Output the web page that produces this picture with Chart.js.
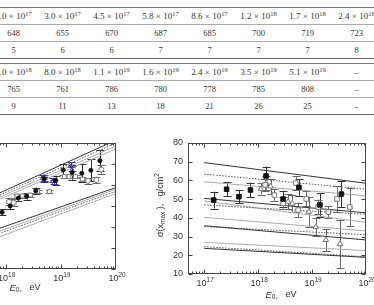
<!DOCTYPE html>
<html lang="en">
<head>
<meta charset="UTF-8">
<title>Xmax and sigma(Xmax) versus E0</title>
<script src="https://cdn.jsdelivr.net/npm/chart.js"></script>
<style>
  body { margin:0; width:374px; height:305px; overflow:hidden; background:#fff; position:relative; }
  .tab { position:absolute; left:-11px; width:441px; table-layout:fixed; border-collapse:separate; border-spacing:0; border-top:1px solid #777; }
  .tab td { width:49px; height:16px; padding:0; border-bottom:1px solid #aaa; text-align:center;
            font:8.5px "Liberation Serif", serif; line-height:16px; color:#333; white-space:nowrap; }
  .tab tr:last-child td { border-bottom-color:#666; }
  .tab tr.h td { font-size:9px; }
  .tab sup { font-size:6.5px; vertical-align:3px; line-height:0; }
  canvas { position:absolute; top:130px; }
</style>
</head>
<body>
<table class="tab" id="t1" style="top:7px"></table>
<table class="tab" id="t2" style="top:63px"></table>
<canvas id="left" width="220" height="175" style="left:-80px"></canvas>
<canvas id="right" width="224" height="175" style="left:150px"></canvas>

<script>
// table / left chart data (Xmax, g/cm2)
const E0 = [2.0e17, 3.0e17, 4.5e17, 5.8e17, 8.6e17, 1.2e18, 1.7e18, 2.4e18, 3.5e18,
            5.0e18, 8.0e18, 1.1e19, 1.6e19, 2.4e19, 3.5e19, 5.1e19];
const xmax = [648, 655, 670, 687, 685, 700, 719, 723, 736, 765, 761, 786, 780, 778, 785, 808];
const xmaxErr = [5, 6, 6, 7, 7, 7, 7, 8, 8, 9, 11, 13, 18, 21, 26, 25];
const perRow = 9;

// other left chart sets
const lsqE = [1.6e18, 2.0e18, 2.8e18, 3.8e18, 6.2e18, 1.15e19, 1.4e19, 1.85e19, 2.45e19];
const lsqX = [724, 724, 726, 734, 734, 770, 770, 770, 764];
const lsqErr = [4, 4, 4, 4, 4, 4, 4, 4, 4];
const lcirE = [1.15e18, 1.4e18, 3.1e19, 4.4e19, 5.4e19];
const lcirX = [710, 708, 760, 762, 787];
const lcirErr = [8, 8, 7, 8, 10];
const lbluE = [4.7e18, 4.9e18, 7.1e18, 7.6e18, 1.5e19, 1.6e19];
const lbluX = [770, 764, 762, 758, 798, 790];
const lbluErr = [5, 5, 5, 5, 6, 6];
const lineE = [1e17, 1e20];
const leftDark = [[678, 857], [606, 744]];
const leftDot = [[674, 850], [593, 735]];
const leftGray = [[670, 843], [666, 836], [598, 740], [583, 730]];
const leftYTicks = [550, 600, 650, 700, 750, 800, 850];

// right chart: sigma(Xmax), g/cm2
const sqE = [1.5e17, 2.6e17, 4.4e17, 7.2e17, 1.4e18, 2.9e18, 5.7e18, 1.4e19, 3.5e19];
const sqSig = [49.5, 55.3, 51.3, 54.9, 62.4, 50.1, 56.3, 46.9, 52.7];
const sqErr = [4.5, 3.7, 3.4, 3.9, 5.0, 4.4, 4.5, 6.4, 6.9];
const osqE = [1.35e18, 2.0e18, 2.9e18, 5.0e18, 5.5e18, 7.8e18, 1.3e19, 2.0e19, 2.9e19, 5.0e19];
const osqSig = [57.6, 52.2, 47.9, 58.6, 44.2, 50.1, 45.8, 43.1, 50.1, 45.8];
const osqErr = [3, 3, 3, 3.5, 4, 4, 4, 3, 7, 10];
const triE = [1.12e18, 1.41e18, 1.7e18, 3.6e18, 4.3e18, 8.7e18, 1.17e19, 1.8e19, 3.3e19];
const triSig = [55.4, 58.6, 56.8, 48.6, 47.7, 43.3, 35.1, 28.2, 26.0];
const triErr = [3, 3.5, 4, 4, 4.5, 8, 5, 6, 13];
const rightDark = [[69.5, 58.5], [50.4, 42.7], [35.8, 28.2], [23.7, 18.9]];
const rightDot = [[63.4, 55.3], [46.9, 41.9], [35.3, 31.0], [24.6, 19.2]];
const rightGray = [[59.3, 51.8], [49.0, 37.6], [40.3, 33.0], [26.9, 22.5]];
const rightYTicks = [10, 20, 30, 40, 50, 60, 70, 80];
const decades = [1e17, 1e18, 1e19, 1e20];

// ---- table ----
function fmtE(e) {
  const p = Math.floor(Math.log10(e) + 1e-9);
  return (e / 10 ** p).toFixed(1) + ' × 10<sup>' + p + '</sup>';
}
function fillTable(id, from) {
  const idx = [];
  for (let i = from; i < from + perRow; i++) idx.push(i);
  const cell = (i, f) => i < E0.length ? f(i) : '–';
  document.getElementById(id).innerHTML =
    '<tr class="h">' + idx.map(i => '<td>' + cell(i, j => fmtE(E0[j])) + '</td>').join('') + '</tr>' +
    '<tr>' + idx.map(i => '<td>' + cell(i, j => xmax[j]) + '</td>').join('') + '</tr>' +
    '<tr>' + idx.map(i => '<td>' + cell(i, j => xmaxErr[j]) + '</td>').join('') + '</tr>';
}
fillTable('t1', 0);
fillTable('t2', perRow);

// ---- chart helpers ----
const pts = (xs, ys) => xs.map((x, i) => ({ x, y: ys[i] }));
function lineSets(list, color, dash) {
  return list.map(v => ({ data: pts(lineE, v), showLine: true, pointRadius: 0,
    borderColor: color, borderWidth: 1, borderDash: dash || [] }));
}
function pointSet(xs, ys, errs, style, r, fill, stroke, errColor) {
  return { data: pts(xs, ys), errors: errs, errColor, pointStyle: style, pointRadius: r,
    backgroundColor: fill, borderColor: stroke, borderWidth: 1, showLine: false };
}

const errorBars = {
  id: 'errorBars',
  beforeDatasetsDraw(chart) {
    const { ctx, chartArea: a, scales: { x, y } } = chart;
    ctx.save();
    ctx.beginPath(); ctx.rect(a.left, a.top, a.right - a.left, a.bottom - a.top); ctx.clip();
    ctx.lineWidth = 1;
    chart.data.datasets.forEach(ds => {
      if (!ds.errors) return;
      ctx.strokeStyle = ds.errColor;
      ds.data.forEach((p, i) => {
        const px = Math.round(x.getPixelForValue(p.x)) + 0.5;
        const y1 = y.getPixelForValue(p.y + ds.errors[i]);
        const y2 = y.getPixelForValue(p.y - ds.errors[i]);
        ctx.beginPath();
        ctx.moveTo(px, y1); ctx.lineTo(px, y2);
        ctx.moveTo(px - 4, Math.round(y1) + 0.5); ctx.lineTo(px + 4, Math.round(y1) + 0.5);
        ctx.moveTo(px - 4, Math.round(y2) + 0.5); ctx.lineTo(px + 4, Math.round(y2) + 0.5);
        ctx.stroke();
      });
    });
    ctx.restore();
  }
};

function textRun(ctx, parts, x, y, align) {
  // parts: [text, size, dy, italic]
  const w = parts.map(p => { ctx.font = (p[3] ? 'italic ' : '') + p[1] + 'px "Liberation Sans"'; return ctx.measureText(p[0]).width; });
  let cx = align === 'center' ? x - w.reduce((s, v) => s + v, 0) / 2 : x;
  parts.forEach((p, i) => {
    ctx.font = (p[3] ? 'italic ' : '') + p[1] + 'px "Liberation Sans"';
    ctx.fillText(p[0], cx, y + p[2]);
    cx += w[i];
  });
}

function framePlugin(cfg) {
  return {
    id: 'frame',
    afterDraw(chart) {
      const { ctx, chartArea: a, scales: { x, y } } = chart;
      ctx.save();
      ctx.strokeStyle = '#444'; ctx.lineWidth = 1;
      const L = Math.round(a.left) + 0.5, R = Math.round(a.right) - 0.5;
      const T = Math.round(a.top) + 0.5, B = Math.round(a.bottom) - 0.5;
      ctx.strokeRect(L, T, R - L, B - T);
      ctx.beginPath();
      for (let d = 16; d < 20; d++) {
        for (let k = 1; k < 10; k++) {
          const v = k * 10 ** d;
          if (v < x.min * 0.999 || v > x.max * 1.001) continue;
          const px = Math.round(x.getPixelForValue(v)) + 0.5;
          const len = k === 1 ? 4 : 2;
          ctx.moveTo(px, B); ctx.lineTo(px, B - len);
          ctx.moveTo(px, T); ctx.lineTo(px, T + len);
        }
      }
      cfg.yTicks.forEach(v => {
        const py = Math.round(y.getPixelForValue(v)) + 0.5;
        ctx.moveTo(L, py); ctx.lineTo(L + 4, py);
        ctx.moveTo(R, py); ctx.lineTo(R - 4, py);
      });
      ctx.stroke();

      ctx.fillStyle = '#333';
      ctx.textBaseline = 'middle';
      decades.forEach(v => {
        const px = x.getPixelForValue(v);
        const exp = String(Math.round(Math.log10(v)));
        textRun(ctx, [['10', 9, 0], [exp, 6.5, -3.5]], px + 1, cfg.xLabelY, 'center');
      });
      ctx.textAlign = 'right';
      ctx.font = '9px "Liberation Sans"';
      if (cfg.yLabels) cfg.yTicks.forEach(v => ctx.fillText(String(v), a.left - 5, y.getPixelForValue(v)));
      ctx.textAlign = 'left';
      textRun(ctx, [['E', 9.5, 0, true], ['0', 6.5, 2.5], [',', 9.5, 0], ['   eV', 9, 0]],
        cfg.xTitleX, cfg.xTitleY, 'center');
      if (cfg.yTitle) {
        ctx.translate(cfg.yTitle[0], cfg.yTitle[1]);
        ctx.rotate(-Math.PI / 2);
        textRun(ctx, [['σ(', 9, 0], ['x', 9, 0], ['max', 6.5, 2.5], [' ),   g/cm', 9, 0], ['2', 6.5, -3.5]],
          0, 0, 'center');
      }
      ctx.restore();
    }
  };
}

function makeChart(id, datasets, yMin, yMax, pad, cfg) {
  return new Chart(document.getElementById(id), {
    type: 'scatter',
    data: { datasets },
    options: {
      responsive: false, animation: false, devicePixelRatio: 1,
      layout: { padding: pad },
      plugins: { legend: { display: false }, tooltip: { enabled: false } },
      scales: {
        x: { type: 'logarithmic', min: 5e16, max: 1e20, display: false },
        y: { min: yMin, max: yMax, display: false }
      }
    },
    plugins: [errorBars, framePlugin(cfg)]
  });
}

// left chart: Xmax vs E0 (cut off by the page edge)
makeChart('left', [
  pointSet(E0, xmax, xmaxErr, 'circle', 2, '#111', '#111', '#333'),
  pointSet(lbluE, lbluX, lbluErr, 'crossRot', 3, '#2a2aa0', '#2a2aa0', '#3a3ab0'),
  pointSet(lcirE, lcirX, lcirErr, 'circle', 2.5, '#fff', '#777', '#666'),
  pointSet(lsqE, lsqX, lsqErr, 'rect', 2.8, '#fff', '#777', '#777'),
  ...lineSets(leftDark, '#333'),
  ...lineSets(leftDot, '#555', [1.5, 1.5]),
  ...lineSets(leftGray, '#aaa')
], 550, 850, { left: 14, right: 24, top: 13, bottom: 36 },
  { yTicks: leftYTicks, yLabels: false, xLabelY: 149, xTitleX: 105, xTitleY: 158 });

// right chart: sigma(Xmax) vs E0
makeChart('right', [
  pointSet(sqE, sqSig, sqErr, 'rect', 3.2, '#111', '#111', '#333'),
  pointSet(osqE, osqSig, osqErr, 'rect', 3.2, '#fff', '#777', '#666'),
  pointSet(triE, triSig, triErr, 'triangle', 3.2, '#fff', '#777', '#666'),
  ...lineSets(rightDark, '#333'),
  ...lineSets(rightDot, '#555', [1.5, 1.5]),
  ...lineSets(rightGray, '#aaa')
], 10, 80, { left: 38, right: 8, top: 13, bottom: 31 },
  { yTicks: rightYTicks, yLabels: true, xLabelY: 154, xTitleX: 131, xTitleY: 165, yTitle: [11, 75] });
</script>
</body>
</html>
